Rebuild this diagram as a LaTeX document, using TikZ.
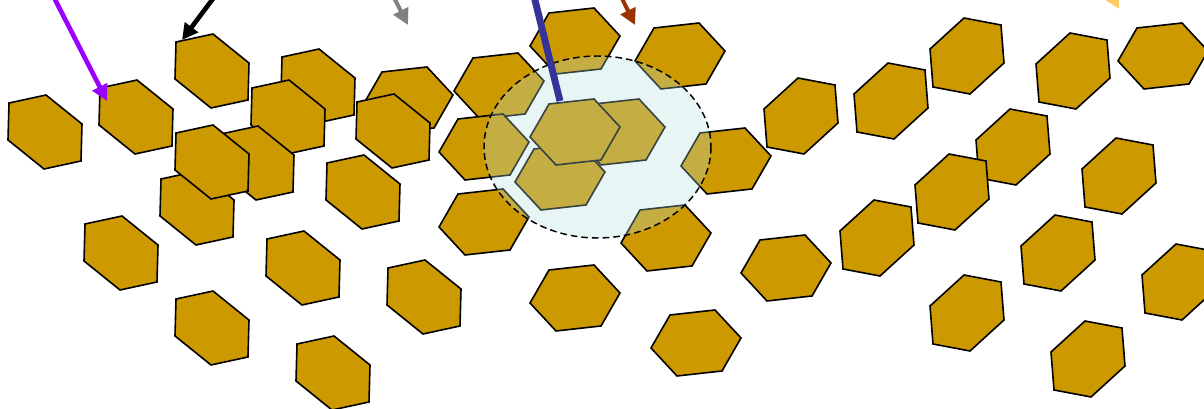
\documentclass[tikz,border=0pt]{standalone}
\usetikzlibrary{arrows.meta}
\definecolor{comb}{RGB}{204,153,0}
\definecolor{lens}{RGB}{178,222,222}
\definecolor{arrviolet}{RGB}{153,0,255}
\definecolor{arrgray}{RGB}{128,128,128}
\definecolor{arrblue}{RGB}{51,51,153}
\definecolor{arrbrown}{RGB}{153,51,0}
\definecolor{arrorange}{RGB}{255,204,102}

\begin{document}
\begin{tikzpicture}[x=0.75pt,y=-0.75pt,>={Triangle[length=12pt,width=12pt]},
  hexcell/.style={draw=black,fill=comb,line width=1.2pt},
  hexA/.pic={\draw[hexcell] (37,-8) -- (1,-37) -- (-36,-29) -- (-37,8) -- (-1,37) -- (36,29) -- cycle;},
  hexB/.pic={\draw[hexcell] (45,-5) -- (19,-33) -- (-26,-28) -- (-45,5) -- (-19,33) -- (26,28) -- cycle;},
  hexC/.pic={\draw[hexcell] (37,7) -- (34,-31) -- (-3,-38) -- (-37,-7) -- (-34,31) -- (3,38) -- cycle;},
  pointer/.style={->,line width=3.5pt}]
  \useasboundingbox (0,0) rectangle (1204,409);
  \clip (0,0) rectangle (1204,409);
  \foreach \x/\y in {45/132,136/117,212/71,318/86,288/117,197/208,257/163,212/162,
    121/253,303/268,212/328,333/373,424/297,363/192}
    \pic at (\x,\y) {hexA};
  \pic at (408,100) {hexB};
  \pic at (393,131) {hexA};
  \foreach \x/\y in {575/41,680/56,499/86,484/147,620/132,560/177,575/132,484/222,
    666/238,575/298,696/343,726/161,786/268,1163/56}
    \pic at (\x,\y) {hexB};
  \foreach \x/\y in {801/116,891/101,967/56,1073/71,1013/147,952/192,1119/176,
    877/238,1058/253,967/313,1179/282,1088/359}
    \pic at (\x,\y) {hexC};
  \fill[lens,fill opacity=0.3] (597.5,147) ellipse [x radius=113.5,y radius=91];
  \draw[line width=1.1pt,dash pattern=on 5pt off 3pt] (597.5,147) ellipse [x radius=113.5,y radius=91];
  \coordinate (violettail) at (45,-20);
  \coordinate (violettip) at (107,101);
  \coordinate (blacktail) at (227,-20);
  \coordinate (blacktip) at (182,40);
  \coordinate (graytail) at (385,-20);
  \coordinate (graytip) at (408,25);
  \coordinate (bluetop) at (530,-20);
  \coordinate (bluefoot) at (560,101);
  \coordinate (browntail) at (613,-20);
  \coordinate (browntip) at (635,25);
  \coordinate (orangetail) at (1093,-40);
  \coordinate (orangetip) at (1119,9);
  \draw[pointer,arrviolet] (violettail) -- (violettip);
  \draw[pointer,black] (blacktail) -- (blacktip);
  \draw[pointer,arrgray,line width=3pt] (graytail) -- (graytip);
  \draw[arrblue,line width=5.2pt] (bluetop) -- (bluefoot);
  \draw[pointer,arrbrown,line width=3pt] (browntail) -- (browntip);
  \draw[pointer,arrorange,line width=3pt] (orangetail) -- (orangetip);
\end{tikzpicture}
\end{document}
